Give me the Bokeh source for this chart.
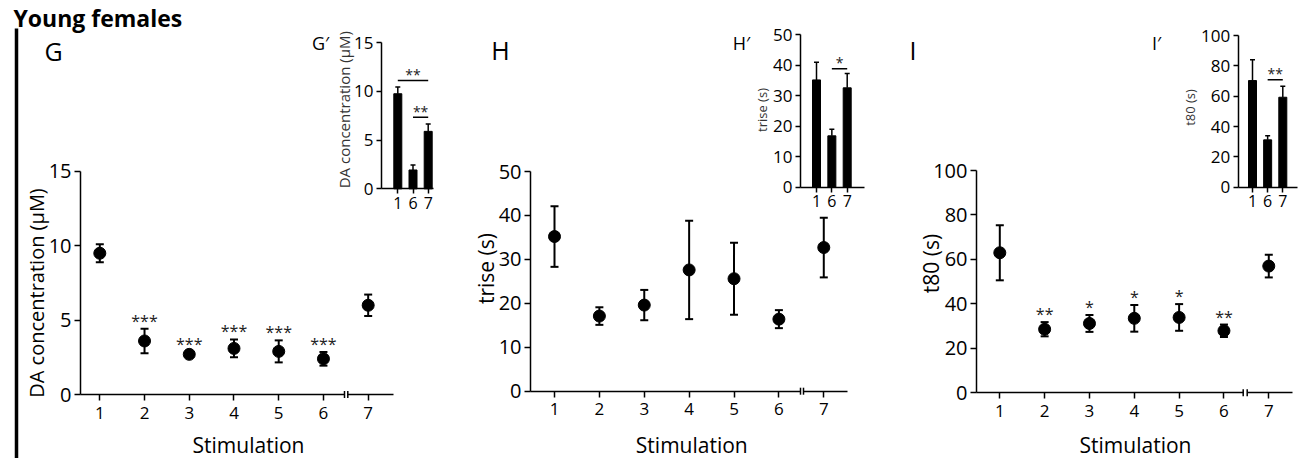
import math
from bokeh.plotting import figure
from bokeh.models import Range1d, LinearAxis, FixedTicker, Label, ColumnDataSource
from bokeh.core.properties import value
from bokeh.embed import file_html
from bokeh.resources import INLINE

# ---------------- data ----------------
stimulation = [1, 2, 3, 4, 5, 6, 7]

da_mean = [9.5, 3.6, 2.7, 3.1, 2.9, 2.4, 6.0]
da_sem = [0.6, 0.83, 0.15, 0.6, 0.74, 0.46, 0.72]
da_stars = ["", "***", "***", "***", "***", "***", ""]

trise_mean = [35.2, 17.1, 19.6, 27.6, 25.6, 16.4, 32.7]
trise_sem = [6.9, 2.0, 3.45, 11.2, 8.2, 2.05, 6.8]
trise_stars = ["", "", "", "", "", "", ""]

t80_mean = [63.0, 28.6, 31.2, 33.5, 33.9, 27.9, 57.0]
t80_sem = [12.4, 3.2, 3.8, 6.0, 6.0, 2.8, 5.1]
t80_stars = ["", "**", "*", "*", "*", "**", ""]

inset_stims = ["1", "6", "7"]
da_inset_mean = [9.75, 1.93, 5.89]
da_inset_sem = [0.68, 0.52, 0.76]
trise_inset_mean = [35.2, 16.85, 32.6]
trise_inset_sem = [5.8, 2.15, 4.7]
t80_inset_mean = [70.3, 31.2, 59.3]
t80_inset_sem = [13.7, 2.7, 7.3]

# comparisons: (from index, to index, stars)
da_inset_sig = [(0, 2, "**"), (1, 2, "**")]
trise_inset_sig = [(1, 2, "*")]
t80_inset_sig = [(1, 2, "**")]

# ---------------- layout ----------------
FONT = "Open Sans"
W, H = 1300, 458
PX0, PY0 = 0, 0

p = figure(width=W, height=H, x_range=Range1d(PX0, PX0 + W), y_range=Range1d(PY0 + H, PY0),
           x_axis_location=None, y_axis_location=None, toolbar_location=None,
           output_backend="svg", min_border=0, outline_line_color=None)
p.grid.visible = False
p.background_fill_color = "white"
p.border_fill_color = "white"


def make_xr(px_anchor, val_anchor, ppu):
    return Range1d(start=val_anchor + (PX0 - px_anchor) / ppu,
                   end=val_anchor + (PX0 + W - px_anchor) / ppu)


def make_yr(py_anchor, val_anchor, ppu):
    return Range1d(start=val_anchor - (PY0 + H - py_anchor) / ppu,
                   end=val_anchor + (py_anchor - PY0) / ppu)


def xv(px, px_anchor, val_anchor, ppu):
    return val_anchor + (px - px_anchor) / ppu


panels = [
    dict(key="G", mean=da_mean, sem=da_sem, stars=da_stars,
         imean=da_inset_mean, isem=da_inset_sem, isig=da_inset_sig,
         ylabel="DA concentration (μM)", yticks=[0, 5, 10, 15],
         mx=99.3, mppu=44.73, my=394, myppu=14.87, maxis=80, mend=393, mbreak=(344, 347.3),
         ix=397.3, ippu=15.2, iy=188.3, iyppu=9.75, iaxis=381, iend=433,
         sig_h=[11.1, 7.33],
         letter=(53, 50), prime=(320, 42.7), ylab=(35.5, 292.5), ylab_size="20px",
         iylab=(343.7, 109.2), iylab_size="15px", stim_x=248),
    dict(key="H", mean=trise_mean, sem=trise_sem, stars=trise_stars,
         imean=trise_inset_mean, isem=trise_inset_sem, isig=trise_inset_sig,
         ylabel="trise (s)", yticks=[0, 10, 20, 30, 40, 50],
         mx=554, mppu=44.88, my=390.7, myppu=4.394, maxis=530, mend=846.7, mbreak=(800, 803),
         ix=816, ippu=15.35, iy=186.7, iyppu=3.048, iaxis=800, iend=864,
         sig_h=[38.9],
         letter=(500, 49), prime=(741, 42), ylab=(485.5, 268), ylab_size="21px",
         iylab=(761.5, 109.5), iylab_size="13px", stim_x=691.3),
    dict(key="I", mean=t80_mean, sem=t80_sem, stars=t80_stars,
         imean=t80_inset_mean, isem=t80_inset_sem, isig=t80_inset_sig,
         ylabel="t80 (s)", yticks=[0, 20, 40, 60, 80, 100],
         mx=999.3, mppu=44.83, my=392.3, myppu=2.223, maxis=976, mend=1291.7, mbreak=(1242.7, 1246.7),
         ix=1252, ippu=15.15, iy=186.7, iyppu=1.517, iaxis=1237.7, iend=1296.7,
         sig_h=[70.8],
         letter=(912.5, 49), prime=(1156, 42), ylab=(930.5, 263), ylab_size="21px",
         iylab=(1189, 107), iylab_size="13px", stim_x=1135),
]


def style_axis(ax, font_size, tick_len, standoff):
    ax.axis_line_width = 1.5
    ax.axis_line_color = "black"
    ax.major_tick_line_width = 1.5
    ax.major_tick_line_color = "black"
    ax.major_tick_out = tick_len
    ax.major_tick_in = 0
    ax.minor_tick_out = 0
    ax.minor_tick_in = 0
    ax.minor_tick_line_color = None
    ax.major_label_text_font = FONT
    ax.major_label_text_font_size = font_size
    ax.major_label_text_color = "black"
    ax.major_label_standoff = standoff


for cfg in panels:
    k = cfg["key"]
    mxn, myn, ixn, iyn = f"mx{k}", f"my{k}", f"ix{k}", f"iy{k}"
    p.extra_x_ranges[mxn] = make_xr(cfg["mx"], 1, cfg["mppu"])
    p.extra_y_ranges[myn] = make_yr(cfg["my"], 0, cfg["myppu"])
    p.extra_x_ranges[ixn] = make_xr(cfg["ix"], 0, cfg["ippu"])
    p.extra_y_ranges[iyn] = make_yr(cfg["iy"], 0, cfg["iyppu"])

    # ---- main plot axes ----
    ax_left = xv(cfg["maxis"], cfg["mx"], 1, cfg["mppu"])
    ax_right = xv(cfg["mend"], cfg["mx"], 1, cfg["mppu"])
    b0 = xv(cfg["mbreak"][0], cfg["mx"], 1, cfg["mppu"])
    b1 = xv(cfg["mbreak"][1], cfg["mx"], 1, cfg["mppu"])
    yt = cfg["yticks"]

    yax = LinearAxis(x_range_name=mxn, y_range_name=myn, fixed_location=ax_left,
                     bounds=(yt[0], yt[-1]), ticker=FixedTicker(ticks=yt))
    style_axis(yax, "20px", 6, 3)
    p.add_layout(yax, "left")

    xax1 = LinearAxis(x_range_name=mxn, y_range_name=myn, fixed_location=0,
                      bounds=(ax_left, b0), ticker=FixedTicker(ticks=stimulation[:-1]))
    style_axis(xax1, "17px", 6, 6)
    p.add_layout(xax1, "below")
    xax2 = LinearAxis(x_range_name=mxn, y_range_name=myn, fixed_location=0,
                      bounds=(b1, ax_right), ticker=FixedTicker(ticks=stimulation[-1:]))
    style_axis(xax2, "17px", 6, 6)
    p.add_layout(xax2, "below")

    p.scatter(x=[b0, b1], y=[0, 0], marker="dash", size=7, angle=math.pi / 2,
              line_width=1.5, line_color="black", x_range_name=mxn, y_range_name=myn)

    # ---- main data ----
    src = ColumnDataSource(dict(
        x=stimulation, y=cfg["mean"],
        lo=[m - s for m, s in zip(cfg["mean"], cfg["sem"])],
        hi=[m + s for m, s in zip(cfg["mean"], cfg["sem"])],
        stars=cfg["stars"]))
    p.segment(x0="x", y0="lo", x1="x", y1="hi", source=src, line_width=2, line_color="black",
              x_range_name=mxn, y_range_name=myn)
    p.scatter(x="x", y="lo", source=src, marker="dash", size=8, line_width=2, line_color="black",
              x_range_name=mxn, y_range_name=myn)
    p.scatter(x="x", y="hi", source=src, marker="dash", size=8, line_width=2, line_color="black",
              x_range_name=mxn, y_range_name=myn)
    p.scatter(x="x", y="y", source=src, marker="circle", size=12, fill_color="black",
              line_color="black", x_range_name=mxn, y_range_name=myn)
    p.text(x="x", y="hi", text="stars", source=src, text_align="center",
           text_baseline="alphabetic", y_offset=-8, text_font=value(FONT),
           text_font_size="16px", text_color="#222222", x_range_name=mxn, y_range_name=myn)

    # ---- inset axes ----
    ipos = list(range(len(inset_stims)))
    iax_left = xv(cfg["iaxis"], cfg["ix"], 0, cfg["ippu"])
    iax_right = xv(cfg["iend"], cfg["ix"], 0, cfg["ippu"])
    iyax = LinearAxis(x_range_name=ixn, y_range_name=iyn, fixed_location=iax_left,
                      bounds=(yt[0], yt[-1]), ticker=FixedTicker(ticks=yt))
    style_axis(iyax, "17px", 5, 3)
    p.add_layout(iyax, "left")
    ixax = LinearAxis(x_range_name=ixn, y_range_name=iyn, fixed_location=0,
                      bounds=(iax_left, iax_right), ticker=FixedTicker(ticks=ipos),
                      major_label_overrides={i: s for i, s in zip(ipos, inset_stims)})
    style_axis(ixax, "16px", 5, 3)
    p.add_layout(ixax, "below")

    # ---- inset data ----
    isrc = ColumnDataSource(dict(
        x=ipos, top=cfg["imean"],
        hi=[m + s for m, s in zip(cfg["imean"], cfg["isem"])]))
    p.vbar(x="x", top="top", bottom=0, width=8 / cfg["ippu"], source=isrc,
           fill_color="black", line_color="black", x_range_name=ixn, y_range_name=iyn)
    p.segment(x0="x", y0="top", x1="x", y1="hi", source=isrc, line_width=1.5,
              line_color="black", x_range_name=ixn, y_range_name=iyn)
    p.scatter(x="x", y="hi", source=isrc, marker="dash", size=5, line_width=1.5,
              line_color="black", x_range_name=ixn, y_range_name=iyn)

    for (i, j, st), h in zip(cfg["isig"], cfg["sig_h"]):
        p.segment(x0=[i], y0=[h], x1=[j], y1=[h], line_width=1.5, line_color="black",
                  x_range_name=ixn, y_range_name=iyn)
        p.text(x=[(i + j) / 2], y=[h], text=[st], text_align="center",
               text_baseline="alphabetic", y_offset=-6, text_font=value(FONT),
               text_font_size="14px", text_color="#222222", x_range_name=ixn, y_range_name=iyn)

    # ---- texts ----
    p.add_layout(Label(x=cfg["letter"][0], y=cfg["letter"][1], text=k, text_font=FONT,
                       text_font_size="25px", text_align="center", text_baseline="middle",
                       text_color="black"))
    p.add_layout(Label(x=cfg["prime"][0], y=cfg["prime"][1], text=k + "′", text_font=FONT,
                       text_font_size="18px", text_align="center", text_baseline="middle",
                       text_color="black"))
    p.add_layout(Label(x=cfg["ylab"][0], y=cfg["ylab"][1], text=cfg["ylabel"], text_font=FONT,
                       text_font_size=cfg["ylab_size"], text_align="center", text_baseline="middle",
                       angle=math.pi / 2, text_color="black"))
    p.add_layout(Label(x=cfg["iylab"][0], y=cfg["iylab"][1], text=cfg["ylabel"], text_font=FONT,
                       text_font_size=cfg["iylab_size"], text_align="center", text_baseline="middle",
                       angle=math.pi / 2, text_color="#333333"))
    p.add_layout(Label(x=cfg["stim_x"], y=444, text="Stimulation", text_font=FONT,
                       text_font_size="21px", text_align="center", text_baseline="alphabetic",
                       text_color="black"))

# title and vertical rule
p.add_layout(Label(x=13, y=17, text="Young females", text_font=FONT, text_font_size="23px",
                   text_font_style="bold", text_align="left", text_baseline="alphabetic",
                   text_color="black"))
p.segment(x0=[16], y0=[28], x1=[16], y1=[462], line_width=3.5, line_color="black")

open("out.html", "w").write(file_html(p, INLINE))
